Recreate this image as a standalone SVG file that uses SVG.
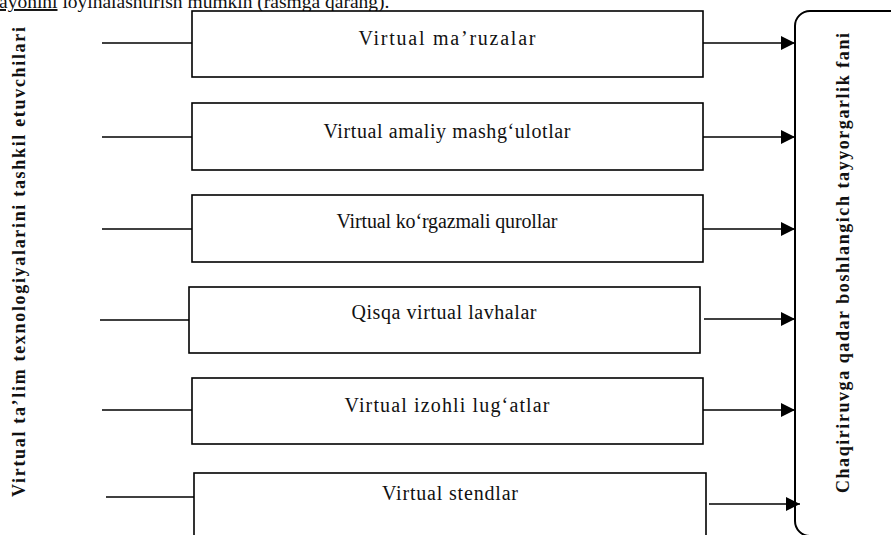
<svg xmlns="http://www.w3.org/2000/svg" width="891" height="535" viewBox="0 0 891 535">
<defs>
<style>
.box{fill:#fff;stroke:#000;stroke-width:1.6}
.ln{stroke:#000;stroke-width:1.6;fill:none}
.lbl{font-family:"Liberation Serif","Times New Roman",serif;font-size:20px;fill:#111;text-anchor:middle}
.side{font-family:"Liberation Serif","Times New Roman",serif;font-size:18px;font-weight:bold;fill:#111;text-anchor:middle}
.top{font-family:"Liberation Serif","Times New Roman",serif;font-size:19.5px;fill:#111}
</style>
<marker id="ah" markerWidth="14" markerHeight="14" refX="14" refY="7" orient="auto" markerUnits="userSpaceOnUse">
<path d="M0,0 L14,7 L0,14 Z" fill="#000"/>
</marker>
</defs>
<rect width="891" height="535" fill="#fff"/>
<text class="top" x="-1" y="8"><tspan text-decoration="underline">ayonini</tspan> loyihalashtirish mumkin (rasmga qarang).</text>

<g id="source">
<text class="side" transform="translate(25,262) rotate(-90)" textLength="470">Virtual ta’lim  texnologiyalarini tashkil etuvchilari</text>
</g>

<g id="target">
<rect x="795" y="11" width="130" height="525" rx="15" ry="15" fill="#fff" stroke="#000" stroke-width="2"/>
<text class="side" transform="translate(849,263) rotate(-90)" textLength="460">Chaqiriruvga qadar boshlangich tayyorgarlik fani</text>
</g>

<g id="connectors">
<line class="ln" x1="102" y1="43" x2="192" y2="43"/>
<line class="ln" x1="703" y1="43" x2="795" y2="43" marker-end="url(#ah)"/>
<line class="ln" x1="102" y1="137" x2="192" y2="137"/>
<line class="ln" x1="703" y1="137" x2="795" y2="137" marker-end="url(#ah)"/>
<line class="ln" x1="102" y1="229" x2="192" y2="229"/>
<line class="ln" x1="703" y1="229" x2="795" y2="229" marker-end="url(#ah)"/>
<line class="ln" x1="100" y1="320" x2="189" y2="320"/>
<line class="ln" x1="704" y1="319" x2="795" y2="319" marker-end="url(#ah)"/>
<line class="ln" x1="102" y1="410" x2="192" y2="410"/>
<line class="ln" x1="703" y1="410" x2="795" y2="410" marker-end="url(#ah)"/>
<line class="ln" x1="106" y1="497" x2="194" y2="497"/>
<line class="ln" x1="709" y1="504" x2="800" y2="504" marker-end="url(#ah)"/>
</g>

<g id="n1">
<rect class="box" x="192" y="11" width="511" height="66"/>
<text class="lbl" x="447" y="45" textLength="177">Virtual ma’ruzalar</text>
</g>
<g id="n2">
<rect class="box" x="192" y="103" width="511" height="67"/>
<text class="lbl" x="447" y="138" textLength="247">Virtual amaliy mashg‘ulotlar</text>
</g>
<g id="n3">
<rect class="box" x="192" y="195" width="511" height="67"/>
<text class="lbl" x="447" y="228" textLength="221">Virtual ko‘rgazmali qurollar</text>
</g>
<g id="n4">
<rect class="box" x="189" y="287" width="511" height="66"/>
<text class="lbl" x="444" y="319" textLength="185">Qisqa virtual lavhalar</text>
</g>
<g id="n5">
<rect class="box" x="192" y="378" width="511" height="66"/>
<text class="lbl" x="447" y="412" textLength="205">Virtual izohli lug‘atlar</text>
</g>
<g id="n6">
<rect class="box" x="194" y="473" width="512" height="70"/>
<text class="lbl" x="450" y="500" textLength="136">Virtual stendlar</text>
</g>
</svg>
